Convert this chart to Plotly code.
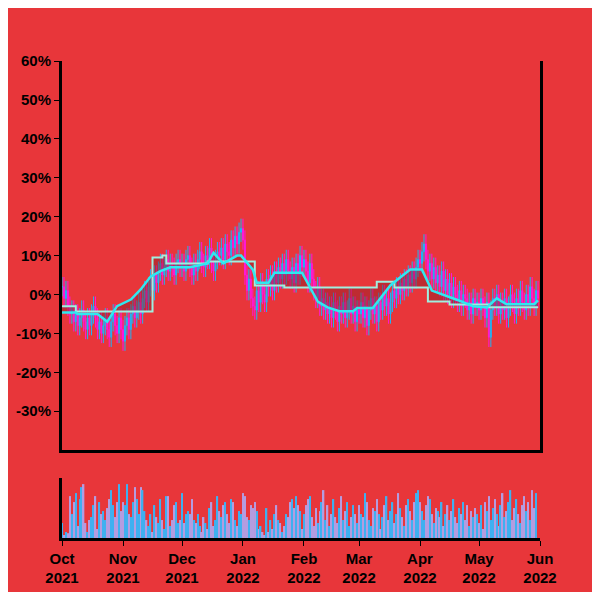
import plotly.graph_objects as go
import pandas as pd

dates = pd.date_range("2021-10-01", "2022-05-31", freq="D")

closes = [2,-1,1,-3,-5,-4,-7,-5,-8,-6,-4,-7,-9,-6,-8,-5,-3,-6,-9,-7,-10,-8,-6,-9,-11,-7,-5,-8,-10,-6,-9,
 -12,-8,-6,-9,-5,-3,-6,-4,-2,-5,-1,1,-2,2,4,1,5,3,6,8,5,7,9,6,8,7,5,8,9,7,
 8,6,9,10,7,5,8,6,9,11,8,7,10,9,12,8,6,9,11,10,12,9,13,11,10,14,12,15,13,16,17,
 14,5,1,4,-1,-3,-4,1,-2,3,0,-2,4,2,5,1,6,3,7,4,8,5,9,6,4,7,3,8,5,10,7,
 9,6,3,8,4,1,-1,2,-3,-1,-4,-2,-5,-3,-6,-2,-4,-7,-3,-5,-2,-6,-4,-1,-5,-3,-7,-4,
 -5,-2,-6,-3,-8,-4,-1,-5,-3,-7,-2,-4,0,-3,-1,-5,-2,1,-1,2,0,3,1,4,2,5,3,6,4,7,9,
 8,11,13,9,6,8,4,7,3,5,2,6,1,4,0,3,-1,2,0,-2,1,-3,0,-1,-4,-2,-5,-1,-3,-2,
 -4,-1,-3,-6,-2,-11,-4,-1,-3,0,-5,-2,-4,-1,-6,-3,0,-2,-5,-1,-3,1,-2,-4,0,-3,2,-1,-3,1,-1]

volumes = [25,5,10,8,70,40,60,75,20,65,85,90,25,10,30,35,55,70,15,60,40,45,30,50,65,80,55,35,60,90,45,
 60,55,90,40,35,60,85,65,40,85,80,45,30,20,40,10,55,35,25,65,30,15,70,70,20,30,55,60,25,
 30,75,25,40,45,40,65,30,25,40,20,10,35,25,15,50,60,20,30,70,45,35,55,60,40,25,65,60,30,20,45,
 40,75,70,35,30,55,50,60,45,15,20,10,5,50,10,30,15,40,55,30,25,10,20,40,35,60,65,50,70,55,45,
 15,40,55,65,70,35,20,50,25,45,60,80,30,55,20,40,65,35,25,50,70,30,45,60,20,35,55,40,
 25,55,40,35,75,60,30,20,50,45,65,40,15,35,55,70,30,45,60,25,40,75,50,35,20,55,65,45,30,60,75,
 80,60,45,30,55,70,65,40,25,50,45,35,60,20,40,55,30,45,65,35,25,50,40,60,30,55,20,45,35,50,
 40,25,55,15,60,45,70,30,50,65,40,20,55,75,35,45,60,80,30,50,65,40,25,55,70,45,60,30,80,50,75]

# Step band line: (start day index, value)
band_days = [0, 7, 46, 51, 53, 74, 98, 113, 160, 169, 186, 197, 217, 242]
band_vals = [-3, -4.4, 9.5, 10, 8, 8.5, 2.3, 1.8, 3.3, 1.8, -1.8, -2.6, -3.3, -3.3]

# Smooth average line: (day index, value)
avg_days = [0,7,8,18,23,28,35,40,45,50,55,65,74,77,82,89,91,97,99,105,108,122,130,135,141,148,150,158,167,177,183,188,201,209,216,221,226,240,242]
avg_vals = [-4.6,-4.6,-5,-5,-7,-3,-1.3,1.3,4.6,6,7,7,8,10.7,8,10,10,6.4,3,3,5.6,5.6,-1.8,-3.3,-4.3,-4.3,-3.5,-3.5,2.4,6.4,6.4,1,-1.4,-3,-3.3,-1,-2.5,-2.5,-1.5]

opens = [closes[0]] + closes[:-1]
highs = [max(o, c) + 2.5 for o, c in zip(opens, closes)]
lows = [min(o, c) - 2.5 for o, c in zip(opens, closes)]
vcolors = ["#3fb0f0" if c >= o else "#b49ce0" for o, c in zip(opens, closes)]

fig = go.Figure()
fig.add_trace(go.Candlestick(x=dates, open=opens, high=highs, low=lows, close=closes,
    increasing=dict(line=dict(color="#1fb4f5", width=1), fillcolor="#1fb4f5"),
    decreasing=dict(line=dict(color="#ff18d8", width=1), fillcolor="#ff18d8"),
    whiskerwidth=0, xaxis="x", yaxis="y", showlegend=False))
fig.add_trace(go.Scatter(x=[dates[i] for i in band_days], y=band_vals, mode="lines",
    line=dict(color="#9ff0e0", width=2, shape="hv"), xaxis="x", yaxis="y", showlegend=False))
fig.add_trace(go.Scatter(x=[dates[i] for i in avg_days], y=avg_vals, mode="lines",
    line=dict(color="#30e8f0", width=2.5), fill="tonexty", fillcolor="rgba(140,30,40,0.45)",
    xaxis="x", yaxis="y", showlegend=False))
fig.add_trace(go.Bar(x=dates, y=volumes, marker=dict(color=vcolors, line=dict(width=0)),
    xaxis="x2", yaxis="y2", showlegend=False))

bg = "#e8363a"
months = pd.date_range("2021-10-01", "2022-06-01", freq="MS")
yt = [-30, -20, -10, 0, 10, 20, 30, 40, 50, 60]
fig.update_layout(
    width=584, height=584, margin=dict(l=0, r=0, t=0, b=0),
    paper_bgcolor=bg, plot_bgcolor=bg,
    font=dict(family="Liberation Sans, Arial", size=15, color="black", weight="bold"),
    bargap=0.3,
    xaxis=dict(domain=[0.0925, 0.911], anchor="y", range=["2021-10-01", "2022-06-01"],
        showticklabels=False, showgrid=False, rangeslider=dict(visible=False),
        showline=True, linecolor="black", linewidth=3, zeroline=False, automargin=False),
    yaxis=dict(domain=[0.243, 0.909], range=[-40, 60], tickvals=yt,
        ticktext=[f"{v}%" for v in yt], showgrid=False, zeroline=False, showline=True,
        linecolor="black", linewidth=3, mirror=True, ticks="outside", ticklen=5,
        tickcolor="black", automargin=False),
    xaxis2=dict(domain=[0.0925, 0.911], anchor="y2", range=["2021-10-01", "2022-06-01"],
        tickvals=months, ticktext=[d.strftime("%b<br>%Y") for d in months],
        showgrid=False, showline=True, linecolor="black", linewidth=3, ticks="outside",
        ticklen=5, tickcolor="black", zeroline=False, automargin=False),
    yaxis2=dict(domain=[0.0925, 0.195], range=[0, 100], showticklabels=False, showgrid=False,
        showline=True, linecolor="black", linewidth=3, zeroline=False, automargin=False),
)
fig.write_html("out.html")
